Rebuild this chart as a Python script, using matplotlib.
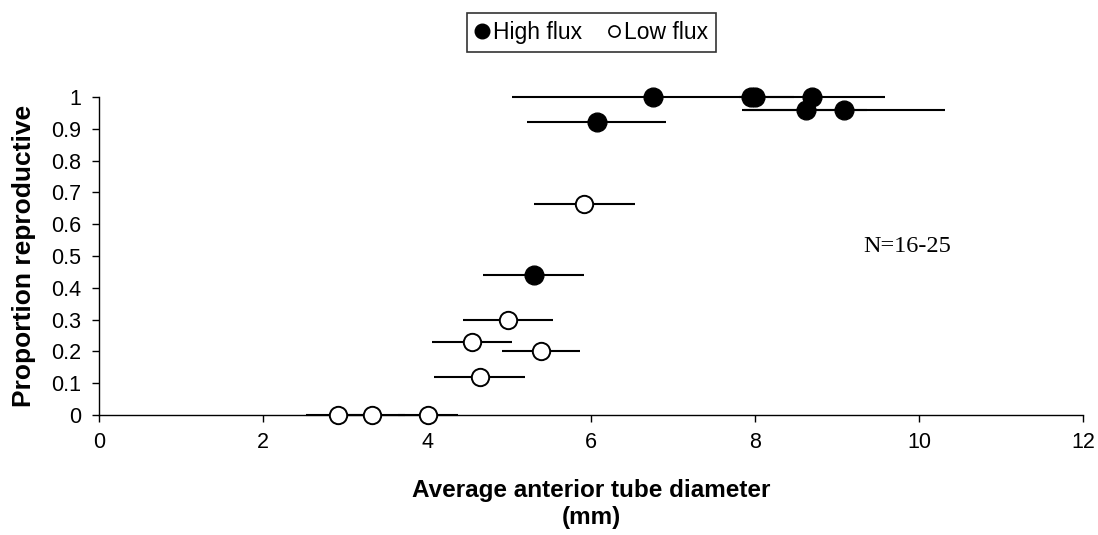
import matplotlib
matplotlib.use("Agg")
import matplotlib.pyplot as plt
from matplotlib.lines import Line2D

plt.rcParams["font.family"] = ["Liberation Sans", "DejaVu Sans"]

# ---- data -----------------------------------------------------------------------------
high_x = [6.75, 7.95, 8.0, 8.70, 6.07, 8.62, 9.08, 5.30]
high_y = [1.00, 1.00, 1.00, 1.00, 0.92, 0.96, 0.96, 0.44]
high_xerr = [1.72, 0.0, 0.0, 0.89, 0.85, 0.75, 1.24, 0.62]

low_x = [5.92, 4.99, 4.55, 5.39, 4.64, 2.91, 3.33, 4.01]
low_y = [0.665, 0.30, 0.23, 0.20, 0.12, 0.0, 0.0, 0.0]
low_xerr = [0.62, 0.55, 0.49, 0.47, 0.55, 0.39, 0.40, 0.37]

x_ticks = [0, 2, 4, 6, 8, 10, 12]
y_ticks = [0, 0.1, 0.2, 0.3, 0.4, 0.5, 0.6, 0.7, 0.8, 0.9, 1]
y_tick_labels = ["0", "0.1", "0.2", "0.3", "0.4", "0.5", "0.6", "0.7", "0.8", "0.9", "1"]

fig = plt.figure(figsize=(10.98, 5.35), dpi=100)
ax = fig.add_axes((0.0902, 0.2243, 0.8962, 0.5944))

ERR_KW = dict(fmt="none", ecolor="black", elinewidth=1.5, capsize=0, clip_on=False, zorder=2)
ax.errorbar(low_x, low_y, xerr=low_xerr, **ERR_KW)
ax.errorbar(high_x, high_y, xerr=high_xerr, **ERR_KW)

ax.plot(low_x, low_y, "o", ms=12.5, mfc="white", mec="black", mew=1.4, ls="none",
        clip_on=False, zorder=3)
ax.plot(high_x, high_y, "o", ms=13.5, mfc="black", mec="black", ls="none",
        clip_on=False, zorder=3)

ax.set_xlim(0, 12)
ax.set_ylim(0, 1)
ax.set_xticks(x_ticks)
ax.set_yticks(y_ticks)
ax.set_yticklabels(y_tick_labels)
ax.tick_params(direction="out", length=5, width=1, labelsize=15.5, colors="black")
ax.tick_params(axis="y", pad=8)
ax.tick_params(axis="x", pad=7)
for side in ("top", "right"):
    ax.spines[side].set_visible(False)
for side in ("left", "bottom"):
    ax.spines[side].set_linewidth(1.0)

ax.set_xlabel("Average anterior tube diameter\n(mm)", fontsize=17.5, fontweight="bold",
              labelpad=19, linespacing=1.2)
ax.set_ylabel("Proportion reproductive", fontsize=19, fontweight="bold", labelpad=11)

ax.text(9.85, 0.53, "N=16-25", fontsize=17.5, family=["Liberation Serif", "DejaVu Serif"],
        ha="center", va="center")

handles = [
    Line2D([], [], marker="o", ls="none", ms=10.5, mfc="black", mec="black"),
    Line2D([], [], marker="o", ls="none", ms=8, mfc="white", mec="black", mew=1.2),
]
leg = fig.legend(handles, ["High flux", "Low flux"], loc="center", bbox_to_anchor=(0.539, 0.94),
                 ncol=2, fontsize=16.5, frameon=True, fancybox=False, handlelength=0.6,
                 handletextpad=0.15, columnspacing=1.1, borderpad=0.35, edgecolor="black")
leg.get_frame().set_linewidth(1.2)

fig.savefig("out.png", dpi=100)
